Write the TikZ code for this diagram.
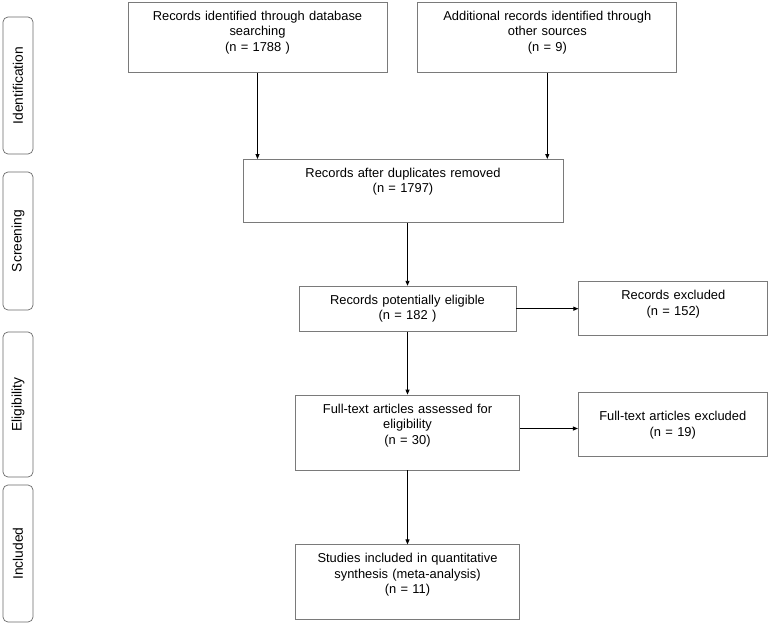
\documentclass[tikz,border=0pt]{standalone}
\usepackage{fontspec}
\setmainfont{Liberation Sans}
\usepackage{tikz}
\usetikzlibrary{arrows.meta, positioning}
\usepackage{xcolor}
\definecolor{frame}{HTML}{7A7A7A}
\definecolor{phaseline}{HTML}{6A6A6A}

\begin{document}
\begin{tikzpicture}[
  x=1pt, y=-1pt,
  font=\fontsize{12.9}{15.5}\selectfont,
  %% text sits near the top of each box, depth fills the rest
  box/.style 2 args={rectangle, draw=frame, line width=0.8pt,
                     text width=#1, align=center, inner xsep=0pt,
                     inner ysep=0pt, text height=18pt, text depth=#2},
  phase/.style={rectangle, rounded corners=5pt, draw=phaseline,
                line width=0.7pt, rotate=90, minimum height=30pt,
                minimum width=#1, inner sep=0pt,
                font=\fontsize{13.8}{16}\selectfont},
  flow/.style={-{Triangle[length=5pt, width=4pt]}, line width=0.9pt, black},
]
  \useasboundingbox (0,0) rectangle (768,624);

  %% ── PHASE LABELS (left margin) ──────────────────────────────────────────
  \node[phase=137pt] (ident)  at (18,85.5)  {Identification};
  \node[phase=138pt] (screen) at (18,241)   {Screening};
  \node[phase=145pt] (elgph)  at (18,404.5) {Eligibility};
  \node[phase=137pt] (inclph) at (18,553.5) {Included};

  %% ── IDENTIFICATION ──────────────────────────────────────────────────────
  \node[box={259pt}{52pt}, anchor=north] (db) at (257.5,2)
        {Records identified through database\\searching\\(n = 1788 )};
  \node[box={259pt}{52pt}, right=30pt of db] (other)
        {Additional records identified through\\other sources\\(n = 9)};

  %% ── SCREENING ───────────────────────────────────────────────────────────
  \node[box={320pt}{45pt}, anchor=north] (dup) at (403,159)
        {Records after duplicates removed\\(n = 1797)};
  \node[box={217pt}{27pt}, below=63pt of dup, xshift=4.5pt] (elig)
        {Records potentially eligible\\(n = 182 )};
  \node[box={189pt}{36pt}, right=62pt of elig] (excl1)
        {Records excluded\\(n = 152)};

  %% ── ELIGIBILITY ─────────────────────────────────────────────────────────
  \node[box={224pt}{57pt}, below=63pt of elig] (full)
        {Full-text articles assessed for\\eligibility\\(n = 30)};
  \node[box={189pt}{36pt}, text height=28pt, right=58pt of full, yshift=8pt] (excl2)
        {Full-text articles excluded\\(n = 19)};

  %% ── INCLUDED ────────────────────────────────────────────────────────────
  \node[box={224pt}{57pt}, below=74pt of full] (incl)
        {Studies included in quantitative\\synthesis (meta-analysis)\\(n = 11)};

  %% ── ARROWS ──────────────────────────────────────────────────────────────
  \draw[flow] (db) -- (db |- dup.north);
  \draw[flow] (other) -- (other |- dup.north);
  \draw[flow] (dup.south -| elig) -- (elig);
  \draw[flow] (elig) -- (elig -| excl1.west);
  \draw[flow] (elig) -- (full);
  \draw[flow] ([yshift=4pt]full.east) -- ([yshift=4pt]full.east -| excl2.west);
  \draw[flow] (full) -- (incl);

\end{tikzpicture}
\end{document}
